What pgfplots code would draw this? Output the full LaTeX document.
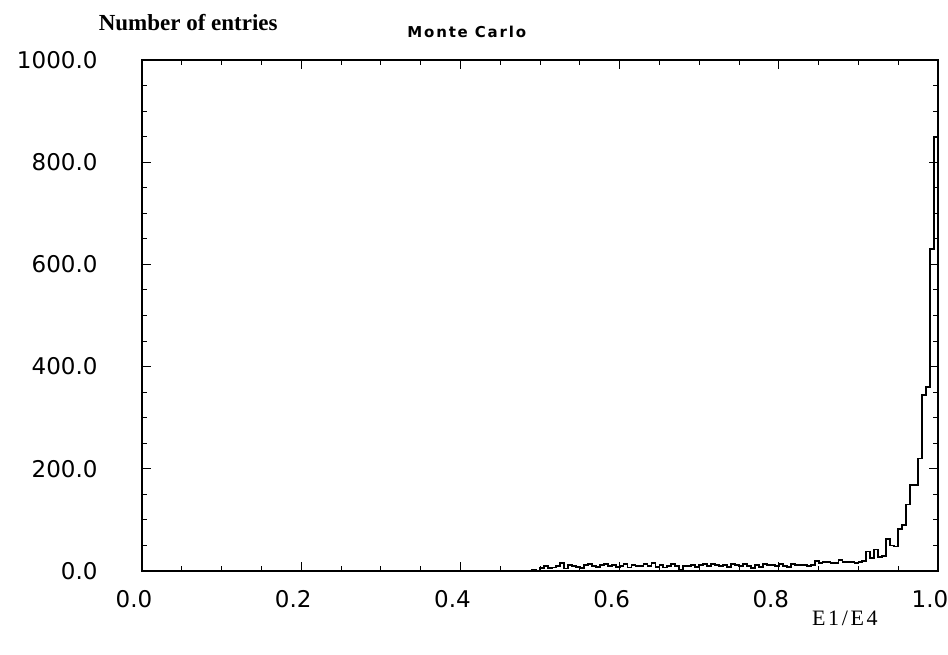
\documentclass[border=0pt]{standalone}
\usepackage{fontspec}
\setmainfont{DejaVu Sans}
\newfontfamily\serifb{Liberation Serif}
\newfontfamily\mcfont[LetterSpace=12]{DejaVu Sans}
\newfontfamily\monof[LetterSpace=12]{Liberation Serif}
\usepackage{pgfplots}
\pgfplotsset{compat=1.18}
\usepackage{pgfplotstable}

% E1/E4 histogram, bins of 0.005 (left edge, entries)
\pgfplotstableread{
x y
0.000 0
0.480 0
0.485 1
0.490 2
0.495 1
0.500 6
0.505 9
0.510 6
0.515 7
0.520 10
0.525 15
0.530 5
0.535 12
0.540 10
0.545 8
0.550 6
0.555 12
0.560 14
0.565 9
0.570 8
0.575 11
0.580 14
0.585 9
0.590 12
0.595 8
0.600 10
0.605 13
0.610 7
0.615 12
0.620 10
0.625 9
0.630 13
0.635 10
0.640 15
0.645 8
0.650 11
0.655 7
0.660 10
0.665 13
0.670 9
0.675 3
0.680 10
0.685 9
0.690 12
0.695 8
0.700 11
0.705 14
0.710 10
0.715 13
0.720 11
0.725 9
0.730 12
0.735 8
0.740 14
0.745 11
0.750 9
0.755 13
0.760 10
0.765 6
0.770 12
0.775 8
0.780 14
0.785 11
0.790 12
0.795 9
0.800 13
0.805 10
0.810 8
0.815 13
0.820 12
0.825 11
0.830 12
0.835 10
0.840 12
0.845 20
0.850 16
0.855 17
0.860 18
0.865 16
0.870 15
0.875 22
0.880 18
0.885 17
0.890 18
0.895 16
0.900 18
0.905 20
0.910 38
0.915 25
0.920 42
0.925 28
0.930 30
0.935 62
0.940 50
0.945 48
0.950 82
0.955 90
0.960 130
0.965 168
0.970 168
0.975 220
0.980 345
0.985 360
0.990 630
0.995 850
1.000 850
1.000 0
}\histdata

\begin{document}
\begin{tikzpicture}
\begin{axis}[
  scale only axis,
  width=796pt, height=511pt,
  xmin=0, xmax=1, ymin=0, ymax=1000,
  xtick={0,0.2,0.4,0.6,0.8,1.0},
  ytick={0,200,400,600,800,1000},
  minor x tick num=3, minor y tick num=3,
  tick align=inside,
  major tick length=9pt, minor tick length=5pt,
  every tick/.style={black, line width=1pt},
  axis line style={line width=1.5pt},
  /pgf/number format/assume math mode=true,
  /pgf/number format/.cd, fixed, fixed zerofill, precision=1, 1000 sep={},
  /pgfplots/.cd,
  ticklabel style={font=\fontsize{23}{26}\selectfont},
  xticklabel style={yshift=-16pt, xshift=-8pt},
  yticklabel style={xshift=-41pt},
  clip=false,
]
\addplot[const plot mark left, black, line width=1.8pt] table[x=x, y=y] {\histdata};
\node[font=\serifb\bfseries\fontsize{23}{26}\selectfont] at (rel axis cs:0.058,1.074) {Number of entries};
\node[font=\mcfont\bfseries\fontsize{15}{17}\selectfont] at (rel axis cs:0.408,1.055) {Monte Carlo};
\node[font=\monof\fontsize{22}{24}\selectfont] at (rel axis cs:0.883,-0.092) {E1/E4};
\coordinate (bbl) at (rel axis cs:-0.1784,-0.1644);
\coordinate (btr) at (rel axis cs:1.01256,1.1174);
\end{axis}
\pgfresetboundingbox
\useasboundingbox (bbl) rectangle (btr);
\end{tikzpicture}
\end{document}
